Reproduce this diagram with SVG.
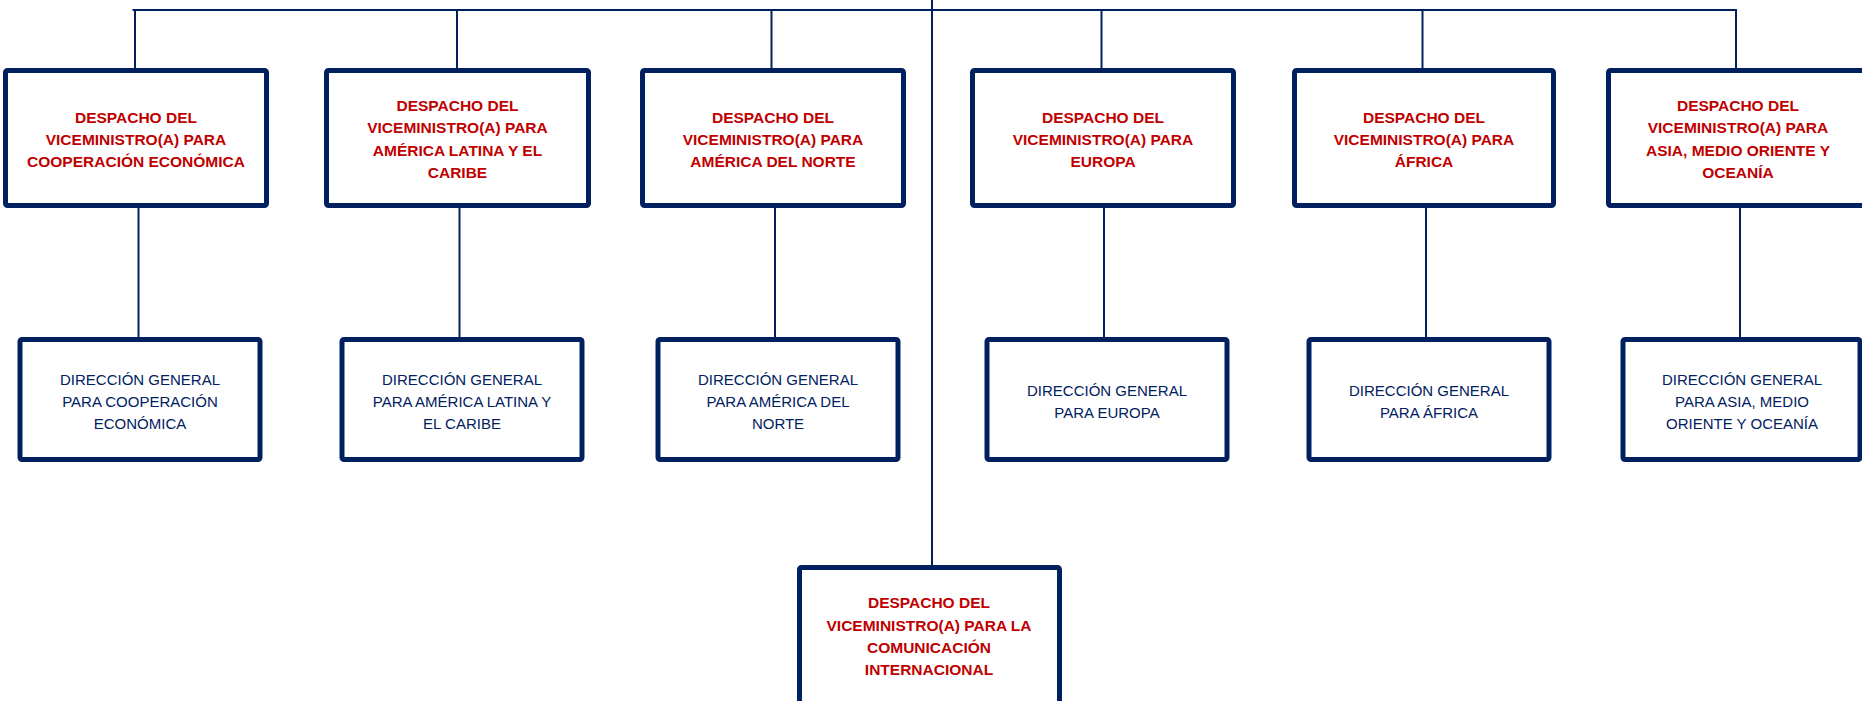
<svg xmlns="http://www.w3.org/2000/svg" width="1862" height="701" viewBox="0 0 1862 701">
<style>
.box{fill:#ffffff;stroke:#002060;stroke-width:5}
.conn{stroke:#002060;stroke-width:2;fill:none}
.t1{font-family:"Liberation Sans",Arial,sans-serif;font-weight:bold;font-size:15.5px;fill:#C00000;text-anchor:middle}
.t2{font-family:"Liberation Sans",Arial,sans-serif;font-size:15px;fill:#002060;text-anchor:middle}
</style>
<rect width="1862" height="701" fill="#ffffff"/>
<g id="connectors">
<line class="conn" x1="132.5" y1="10" x2="1737" y2="10"/>
<line class="conn" x1="932" y1="0" x2="932" y2="566"/>
<line class="conn" x1="135" y1="10" x2="135" y2="69"/>
<line class="conn" x1="457" y1="10" x2="457" y2="69"/>
<line class="conn" x1="771.5" y1="10" x2="771.5" y2="69"/>
<line class="conn" x1="1101.5" y1="10" x2="1101.5" y2="69"/>
<line class="conn" x1="1422.5" y1="10" x2="1422.5" y2="69"/>
<line class="conn" x1="1736" y1="10" x2="1736" y2="69"/>
<line class="conn" x1="138.5" y1="207" x2="138.5" y2="338"/>
<line class="conn" x1="459.5" y1="207" x2="459.5" y2="338"/>
<line class="conn" x1="775" y1="207" x2="775" y2="338"/>
<line class="conn" x1="1104" y1="207" x2="1104" y2="338"/>
<line class="conn" x1="1426" y1="207" x2="1426" y2="338"/>
<line class="conn" x1="1740" y1="207" x2="1740" y2="338"/>
</g>
<g id="vm-cooperacion">
<rect class="box" x="5.5" y="70.5" width="261" height="135" rx="2"/>
<text class="t1" x="136" y="122.5">DESPACHO DEL</text>
<text class="t1" x="136" y="144.8">VICEMINISTRO(A) PARA</text>
<text class="t1" x="136" y="167.1">COOPERACIÓN ECONÓMICA</text>
</g>
<g id="vm-latam">
<rect class="box" x="326.5" y="70.5" width="262" height="135" rx="2"/>
<text class="t1" x="457.5" y="111">DESPACHO DEL</text>
<text class="t1" x="457.5" y="133.3">VICEMINISTRO(A) PARA</text>
<text class="t1" x="457.5" y="155.6">AMÉRICA LATINA Y EL</text>
<text class="t1" x="457.5" y="177.9">CARIBE</text>
</g>
<g id="vm-norte">
<rect class="box" x="642.5" y="70.5" width="261" height="135" rx="2"/>
<text class="t1" x="773" y="122.5">DESPACHO DEL</text>
<text class="t1" x="773" y="144.8">VICEMINISTRO(A) PARA</text>
<text class="t1" x="773" y="167.1">AMÉRICA DEL NORTE</text>
</g>
<g id="vm-europa">
<rect class="box" x="972.5" y="70.5" width="261" height="135" rx="2"/>
<text class="t1" x="1103" y="122.5">DESPACHO DEL</text>
<text class="t1" x="1103" y="144.8">VICEMINISTRO(A) PARA</text>
<text class="t1" x="1103" y="167.1">EUROPA</text>
</g>
<g id="vm-africa">
<rect class="box" x="1294.5" y="70.5" width="259" height="135" rx="2"/>
<text class="t1" x="1424" y="122.5">DESPACHO DEL</text>
<text class="t1" x="1424" y="144.8">VICEMINISTRO(A) PARA</text>
<text class="t1" x="1424" y="167.1">ÁFRICA</text>
</g>
<g id="vm-asia">
<rect class="box" x="1608.5" y="70.5" width="261" height="135" rx="2"/>
<text class="t1" x="1738" y="111">DESPACHO DEL</text>
<text class="t1" x="1738" y="133.3">VICEMINISTRO(A) PARA</text>
<text class="t1" x="1738" y="155.6">ASIA, MEDIO ORIENTE Y</text>
<text class="t1" x="1738" y="177.9">OCEANÍA</text>
</g>
<g id="dg-cooperacion">
<rect class="box" x="20" y="339.5" width="240" height="120" rx="2"/>
<text class="t2" x="140" y="385">DIRECCIÓN GENERAL</text>
<text class="t2" x="140" y="407">PARA COOPERACIÓN</text>
<text class="t2" x="140" y="429">ECONÓMICA</text>
</g>
<g id="dg-latam">
<rect class="box" x="342" y="339.5" width="240" height="120" rx="2"/>
<text class="t2" x="462" y="385">DIRECCIÓN GENERAL</text>
<text class="t2" x="462" y="407">PARA AMÉRICA LATINA Y</text>
<text class="t2" x="462" y="429">EL CARIBE</text>
</g>
<g id="dg-norte">
<rect class="box" x="658" y="339.5" width="240" height="120" rx="2"/>
<text class="t2" x="778" y="385">DIRECCIÓN GENERAL</text>
<text class="t2" x="778" y="407">PARA AMÉRICA DEL</text>
<text class="t2" x="778" y="429">NORTE</text>
</g>
<g id="dg-europa">
<rect class="box" x="987" y="339.5" width="240" height="120" rx="2"/>
<text class="t2" x="1107" y="396">DIRECCIÓN GENERAL</text>
<text class="t2" x="1107" y="418">PARA EUROPA</text>
</g>
<g id="dg-africa">
<rect class="box" x="1309" y="339.5" width="240" height="120" rx="2"/>
<text class="t2" x="1429" y="396">DIRECCIÓN GENERAL</text>
<text class="t2" x="1429" y="418">PARA ÁFRICA</text>
</g>
<g id="dg-asia">
<rect class="box" x="1623" y="339.5" width="237" height="120" rx="2"/>
<text class="t2" x="1742" y="385">DIRECCIÓN GENERAL</text>
<text class="t2" x="1742" y="407">PARA ASIA, MEDIO</text>
<text class="t2" x="1742" y="429">ORIENTE Y OCEANÍA</text>
</g>
<g id="vm-comunicacion">
<rect class="box" x="799.5" y="567.5" width="260" height="150" rx="2"/>
<text class="t1" x="929" y="608.3">DESPACHO DEL</text>
<text class="t1" x="929" y="630.6">VICEMINISTRO(A) PARA LA</text>
<text class="t1" x="929" y="652.9">COMUNICACIÓN</text>
<text class="t1" x="929" y="675.2">INTERNACIONAL</text>
</g>
</svg>
